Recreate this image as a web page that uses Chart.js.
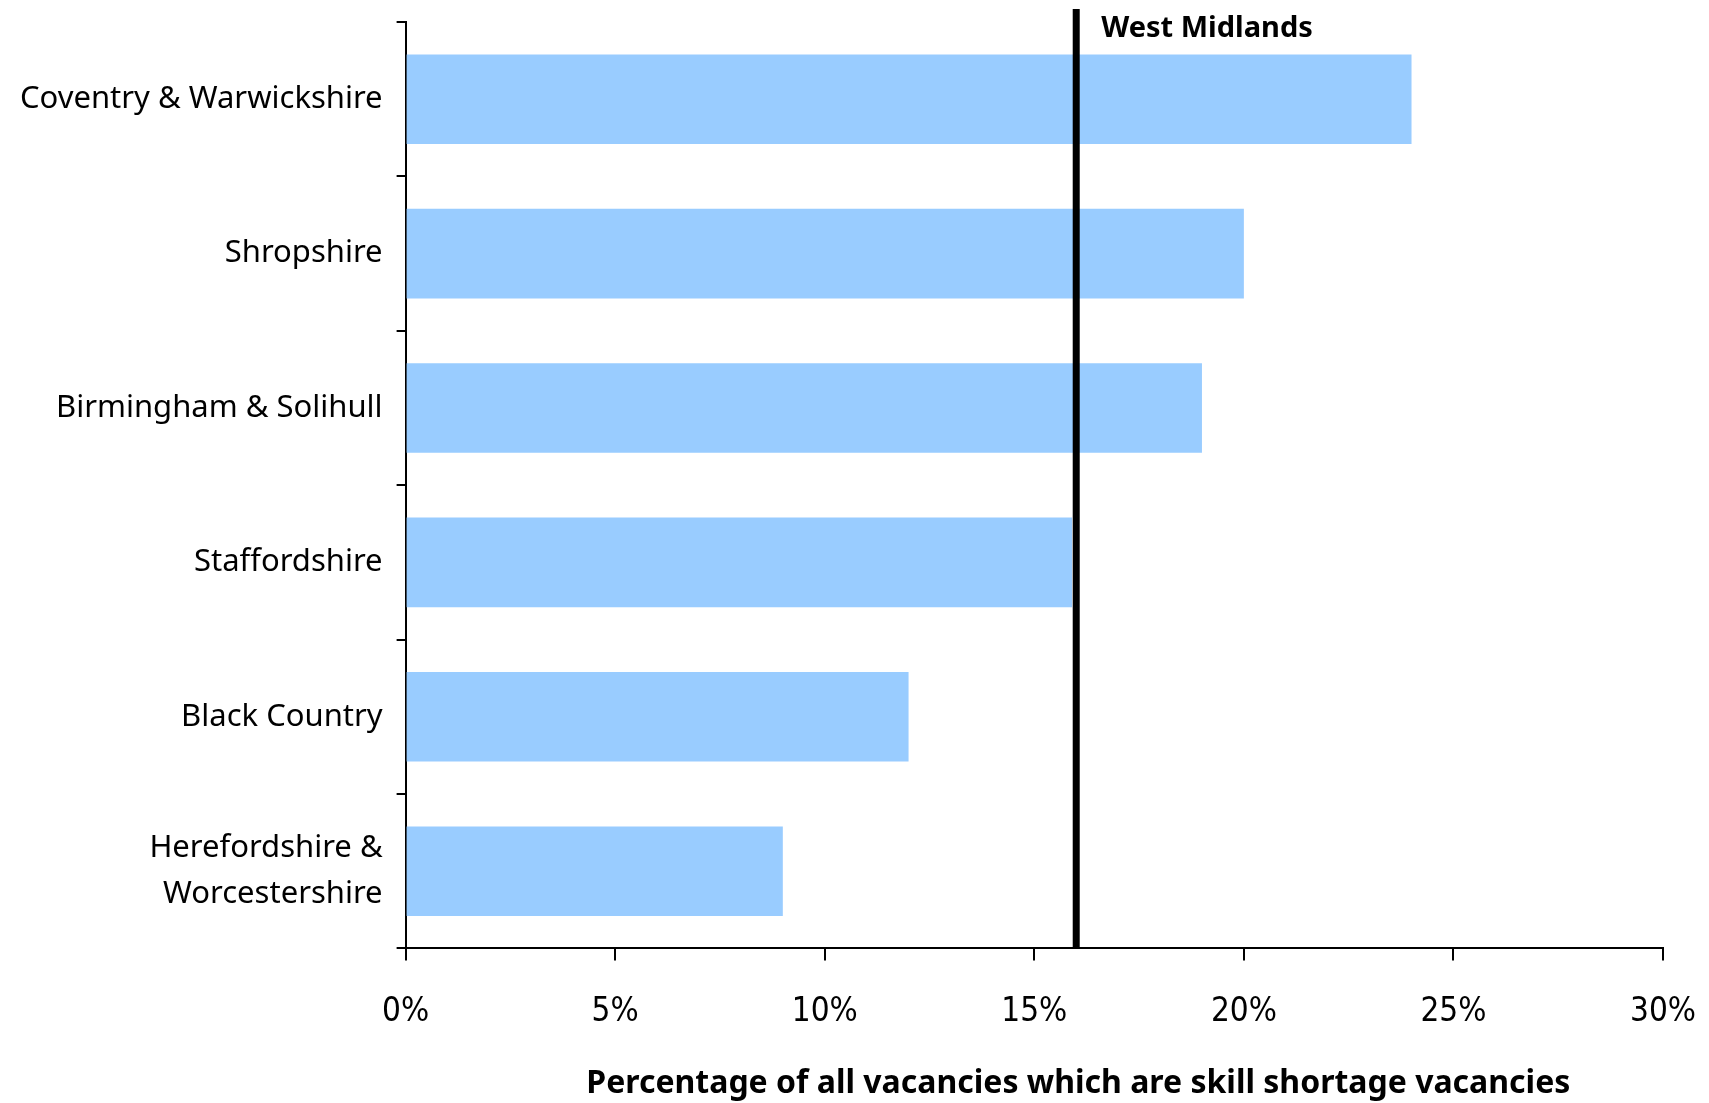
<!DOCTYPE html>
<html>
<head>
<meta charset="utf-8">
<script src="https://cdn.jsdelivr.net/npm/chart.js@4/dist/chart.umd.min.js"></script>
<style>
  html, body { margin: 0; padding: 0; background: #fff; }
  #wrap { width: 1709px; height: 1103px; position: relative; }
</style>
</head>
<body>
<div id="wrap"><canvas id="bar-chart"></canvas></div>
<script>
var regions = [
    'Coventry & Warwickshire',
    'Shropshire',
    'Birmingham & Solihull',
    'Staffordshire',
    'Black Country',
    ['Herefordshire &', 'Worcestershire']
];
var shortageShare = [24, 20, 19, 15.9, 12, 9];
var westMidlands = 16;
var westMidlandsLabel = 'West Midlands';
var xTicks = [0, 5, 10, 15, 20, 25, 30];
var xTitle = 'Percentage of all vacancies which are skill shortage vacancies';

var fontFamily = '"Noto Sans", "DejaVu Sans", sans-serif';
var tickFamily = '"DejaVu Sans Condensed", "Liberation Sans Narrow", "DejaVu Sans", sans-serif';

// vertical reference line for the regional average, plus the axis caption
var avgLine = {
    id: 'avgLine',
    afterDatasetsDraw: function(chart) {
        var ctx = chart.ctx;
        var xScale = chart.scales.x;
        var x = xScale.getPixelForValue(westMidlands);
        var area = chart.chartArea;
        ctx.save();
        ctx.strokeStyle = '#000';
        ctx.lineWidth = 7;
        ctx.beginPath();
        ctx.moveTo(x, 9);
        ctx.lineTo(x, area.bottom);
        ctx.stroke();
        ctx.fillStyle = '#000';
        ctx.font = 'bold 29px ' + fontFamily;
        ctx.textBaseline = 'middle';
        ctx.fillText(westMidlandsLabel, x + 25, 29);

        // caption sits a little right of the plot centre, as in the original
        ctx.font = 'bold 32px ' + fontFamily;
        ctx.textAlign = 'center';
        ctx.fillText(xTitle, (area.left + area.right) / 2 + 44, 1084);
        ctx.restore();
    }
};

var canvas = document.getElementById('bar-chart');
new Chart(canvas, {
    type: 'bar',
    data: {
        labels: regions,
        datasets: [{
            data: shortageShare,
            backgroundColor: '#99ccff',
            borderWidth: 0,
            categoryPercentage: 1,
            barPercentage: 0.58
        }]
    },
    options: {
        indexAxis: 'y',
        responsive: true,
        maintainAspectRatio: false,
        animation: false,
        layout: {padding: {top: 22, right: 46, bottom: 39, left: 6}},
        plugins: {
            legend: {display: false},
            tooltip: {enabled: false}
        },
        scales: {
            x: {
                min: 0,
                max: 30,
                afterBuildTicks: function(axis) {
                    axis.ticks = xTicks.map(function(v) { return {value: v}; });
                },
                afterFit: function(scale) {
                    scale.paddingRight = 0;
                },
                border: {color: '#000', width: 2},
                grid: {drawOnChartArea: false, drawTicks: true, tickLength: 12, color: '#000', lineWidth: 2},
                ticks: {
                    color: '#000',
                    padding: 32,
                    font: {family: tickFamily, size: 33},
                    callback: function(v) { return v + '%'; }
                }
            },
            y: {
                border: {color: '#000', width: 2},
                grid: {drawOnChartArea: false, drawTicks: true, tickLength: 9, color: '#000', lineWidth: 2},
                ticks: {
                    color: '#000',
                    padding: 14,
                    font: {family: fontFamily, size: 31, lineHeight: 1.5}
                },
                afterFit: function(scale) {
                    scale.paddingTop = 0;
                    scale.paddingBottom = 0;
                }
            }
        }
    },
    plugins: [avgLine]
});
</script>
</body>
</html>
